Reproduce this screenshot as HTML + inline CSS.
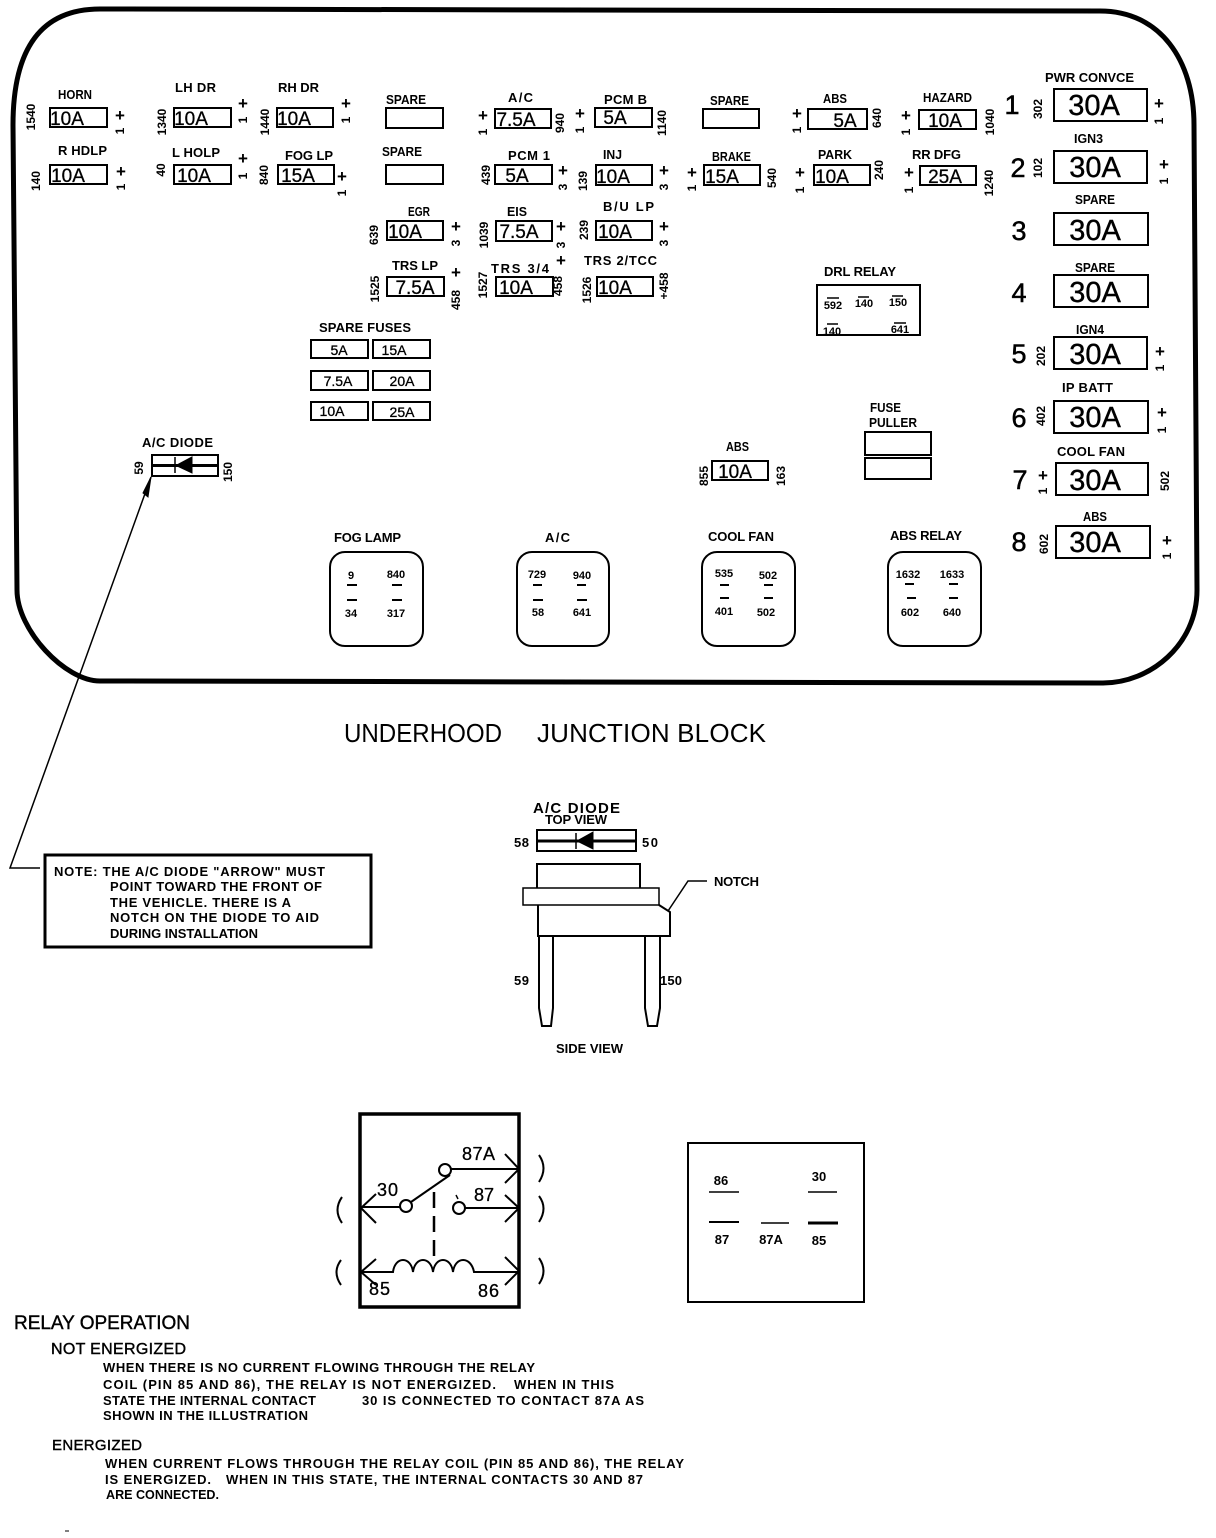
<!DOCTYPE html>
<html><head><meta charset="utf-8"><title>Underhood Junction Block</title>
<style>
html,body{margin:0;padding:0;background:#fff}
svg{display:block}
text{font-family:"Liberation Sans",sans-serif;fill:#000}
.l{font-size:13px;font-weight:bold}
.s{font-size:11px;font-weight:bold;text-anchor:middle}
.n{font-size:12px;font-weight:bold;text-anchor:middle}
.p{font-size:17px;font-weight:bold;text-anchor:middle}
.f{font-size:19px;text-anchor:middle;stroke:#000;stroke-width:.3}
.b{font-size:29px;text-anchor:middle;stroke:#000;stroke-width:.4}
.d{font-size:27px;text-anchor:middle;stroke:#000;stroke-width:.5}
.r{font-size:18px;stroke:#000;stroke-width:.3}
.t{stroke:#000;stroke-width:.4}
rect,path,line,circle{fill:none;stroke:#000}
</style></head><body>
<svg width="1216" height="1538" viewBox="0 0 1216 1538" xmlns="http://www.w3.org/2000/svg">
<path stroke-width="5" d="M100 9L1100 11C1160 11 1194 60 1194 125L1197 590C1197 645 1150 683 1103 683L100 681C65 681 17 630 17 590L13 125C13 50 40 9 100 9Z"/>

<!-- small fuses -->
<g stroke-width="2">
<rect x="50" y="108" width="57" height="19"/><rect x="50" y="165" width="57" height="19"/>
<rect x="174" y="108" width="57" height="19"/><rect x="174" y="165" width="57" height="19"/>
<rect x="277" y="108" width="56" height="19"/><rect x="278" y="165" width="56" height="19"/>
<rect x="386" y="108" width="57" height="20"/><rect x="386" y="165" width="57" height="19"/>
<rect x="387" y="221" width="56" height="19"/><rect x="387" y="277" width="57" height="19"/>
<rect x="495" y="109" width="56" height="19"/><rect x="595" y="108" width="57" height="19"/>
<rect x="703" y="109" width="56" height="19"/><rect x="808" y="109" width="59" height="20"/>
<rect x="919" y="110" width="57" height="19"/>
<rect x="495" y="165" width="57" height="19"/><rect x="596" y="165" width="56" height="20"/>
<rect x="704" y="165" width="56" height="20"/><rect x="814" y="165" width="56" height="20"/>
<rect x="920" y="166" width="56" height="19"/>
<rect x="496" y="221" width="56" height="20"/><rect x="596" y="221" width="56" height="19"/>
<rect x="496" y="277" width="57" height="19"/><rect x="597" y="277" width="56" height="19"/>
<rect x="817" y="285" width="103" height="50"/>
<rect x="311" y="340" width="57" height="18"/><rect x="373" y="340" width="57" height="18"/>
<rect x="311" y="371" width="57" height="19"/><rect x="373" y="371" width="57" height="19"/>
<rect x="311" y="402" width="57" height="18"/><rect x="373" y="402" width="57" height="18"/>
<rect x="865" y="432" width="66" height="23"/><rect x="865" y="458" width="66" height="21"/>
<rect x="712" y="461" width="56" height="19"/>
<rect x="1054" y="89" width="93" height="32"/><rect x="1054" y="151" width="93" height="32"/>
<rect x="1054" y="213" width="94" height="32"/><rect x="1054" y="275" width="94" height="32"/>
<rect x="1054" y="337" width="93" height="32"/><rect x="1054" y="401" width="94" height="32"/>
<rect x="1056" y="463" width="92" height="32"/><rect x="1056" y="526" width="94" height="32"/>
<rect x="330" y="552" width="93" height="94" rx="15"/><rect x="517" y="552" width="92" height="94" rx="15"/>
<rect x="702" y="552" width="93" height="94" rx="15"/><rect x="888" y="552" width="93" height="94" rx="15"/>
</g>

<!-- fuse values -->
<text class="f" x="67" y="125">10A</text><text class="f" x="68" y="182">10A</text>
<text class="f" x="191" y="125">10A</text><text class="f" x="194" y="182">10A</text>
<text class="f" x="294" y="125">10A</text><text class="f" x="298" y="182">15A</text>
<text class="f" x="405" y="238">10A</text><text class="f" x="415" y="294">7.5A</text>
<text class="f" x="516" y="126">7.5A</text><text class="f" x="615" y="124">5A</text>
<text class="f" x="845" y="127">5A</text><text class="f" x="945" y="127">10A</text>
<text class="f" x="517" y="182">5A</text><text class="f" x="613" y="183">10A</text>
<text class="f" x="722" y="183">15A</text><text class="f" x="832" y="183">10A</text>
<text class="f" x="945" y="183">25A</text><text class="f" x="519" y="238">7.5A</text>
<text class="f" x="615" y="238">10A</text><text class="f" x="516" y="294">10A</text>
<text class="f" x="615" y="294">10A</text><text class="f" x="735" y="478">10A</text>
<text class="f" style="font-size:14px" x="339" y="355">5A</text><text class="f" style="font-size:14px" x="394" y="355">15A</text>
<text class="f" style="font-size:14px" x="338" y="386">7.5A</text><text class="f" style="font-size:14px" x="402" y="386">20A</text>
<text class="f" style="font-size:14px" x="332" y="416">10A</text><text class="f" style="font-size:14px" x="402" y="417">25A</text>
<text class="b" x="1094" y="115">30A</text><text class="b" x="1095" y="177">30A</text>
<text class="b" x="1095" y="240">30A</text><text class="b" x="1095" y="302">30A</text>
<text class="b" x="1095" y="364">30A</text><text class="b" x="1095" y="427">30A</text>
<text class="b" x="1095" y="490">30A</text><text class="b" x="1095" y="552">30A</text>
<text class="d" x="1012" y="114">1</text><text class="d" x="1018" y="177">2</text>
<text class="d" x="1019" y="240">3</text><text class="d" x="1019" y="302">4</text>
<text class="d" x="1019" y="363">5</text><text class="d" x="1019" y="427">6</text>
<text class="d" x="1020" y="489">7</text><text class="d" x="1019" y="551">8</text>

<!-- labels -->
<text class="l" x="58" y="99" textLength="34" lengthAdjust="spacingAndGlyphs">HORN</text>
<text class="l" x="58" y="155" textLength="49">R HDLP</text>
<text class="l" x="175" y="92" textLength="41">LH DR</text>
<text class="l" x="172" y="157" textLength="48">L HOLP</text>
<text class="l" x="278" y="92" textLength="41">RH DR</text>
<text class="l" x="285" y="160" textLength="48">FOG LP</text>
<text class="l" x="386" y="104" textLength="40" lengthAdjust="spacingAndGlyphs">SPARE</text>
<text class="l" x="382" y="156" textLength="40" lengthAdjust="spacingAndGlyphs">SPARE</text>
<text class="l" x="408" y="216" textLength="22" lengthAdjust="spacingAndGlyphs">EGR</text>
<text class="l" x="392" y="270" textLength="46">TRS LP</text>
<text class="l" x="508" y="102" textLength="25">A/C</text>
<text class="l" x="604" y="104" textLength="43">PCM B</text>
<text class="l" x="710" y="105" textLength="39" lengthAdjust="spacingAndGlyphs">SPARE</text>
<text class="l" x="823" y="103" textLength="24" lengthAdjust="spacingAndGlyphs">ABS</text>
<text class="l" x="923" y="102" textLength="49" lengthAdjust="spacingAndGlyphs">HAZARD</text>
<text class="l" x="508" y="160" textLength="42">PCM 1</text>
<text class="l" x="603" y="159" textLength="19" lengthAdjust="spacingAndGlyphs">INJ</text>
<text class="l" x="712" y="161" textLength="39" lengthAdjust="spacingAndGlyphs">BRAKE</text>
<text class="l" x="818" y="159" textLength="34" lengthAdjust="spacingAndGlyphs">PARK</text>
<text class="l" x="912" y="159" textLength="49">RR DFG</text>
<text class="l" x="507" y="216" textLength="20" lengthAdjust="spacingAndGlyphs">EIS</text>
<text class="l" x="603" y="211" textLength="51">B/U LP</text>
<text class="l" x="491" y="273" textLength="58">TRS 3/4</text>
<text class="l" x="584" y="265" textLength="73">TRS 2/TCC</text>
<text class="l" x="824" y="276" textLength="72">DRL RELAY</text>
<text class="l" x="319" y="332" textLength="92">SPARE FUSES</text>
<text class="l" x="870" y="412" textLength="31" lengthAdjust="spacingAndGlyphs">FUSE</text>
<text class="l" x="869" y="427" textLength="48" lengthAdjust="spacingAndGlyphs">PULLER</text>
<text class="l" x="726" y="451" textLength="23" lengthAdjust="spacingAndGlyphs">ABS</text>
<text class="l" x="142" y="447" textLength="71">A/C DIODE</text>
<text class="l" x="1045" y="82" textLength="89">PWR CONVCE</text>
<text class="l" x="1074" y="143" textLength="29" lengthAdjust="spacingAndGlyphs">IGN3</text>
<text class="l" x="1075" y="204" textLength="40" lengthAdjust="spacingAndGlyphs">SPARE</text>
<text class="l" x="1075" y="272" textLength="40" lengthAdjust="spacingAndGlyphs">SPARE</text>
<text class="l" x="1076" y="334" textLength="28" lengthAdjust="spacingAndGlyphs">IGN4</text>
<text class="l" x="1062" y="392" textLength="51">IP BATT</text>
<text class="l" x="1057" y="456" textLength="68">COOL FAN</text>
<text class="l" x="1083" y="521" textLength="24" lengthAdjust="spacingAndGlyphs">ABS</text>
<text class="l" x="334" y="542" textLength="67">FOG LAMP</text>
<text class="l" x="545" y="542" textLength="25">A/C</text>
<text class="l" x="708" y="541" textLength="66">COOL FAN</text>
<text class="l" x="890" y="540" textLength="72">ABS RELAY</text>

<!-- plus marks -->
<text class="p" x="120" y="121">+</text><text class="p" x="121" y="177">+</text>
<text class="p" x="243" y="109">+</text><text class="p" x="243" y="164">+</text>
<text class="p" x="346" y="109">+</text><text class="p" x="342" y="182">+</text>
<text class="p" x="456" y="232">+</text><text class="p" x="456" y="278">+</text>
<text class="p" x="483" y="121">+</text><text class="p" x="580" y="119">+</text>
<text class="p" x="797" y="119">+</text><text class="p" x="906" y="121">+</text>
<text class="p" x="563" y="176">+</text><text class="p" x="664" y="176">+</text>
<text class="p" x="692" y="178">+</text><text class="p" x="800" y="178">+</text>
<text class="p" x="909" y="178">+</text><text class="p" x="561" y="232">+</text>
<text class="p" x="664" y="232">+</text><text class="p" x="561" y="266">+</text>
<text class="p" x="1159" y="109">+</text><text class="p" x="1164" y="170">+</text>
<text class="p" x="1160" y="357">+</text><text class="p" x="1162" y="418">+</text>
<text class="p" x="1043" y="481">+</text><text class="p" x="1167" y="546">+</text>

<!-- rotated numbers -->
<text class="n" transform="translate(35,117) rotate(-90)">1540</text>
<text class="n" transform="translate(40,181) rotate(-90)">140</text>
<text class="n" transform="translate(166,122) rotate(-90)">1340</text>
<text class="n" transform="translate(165,170) rotate(-90)">40</text>
<text class="n" transform="translate(269,122) rotate(-90)">1440</text>
<text class="n" transform="translate(268,175) rotate(-90)">840</text>
<text class="n" transform="translate(378,235) rotate(-90)">639</text>
<text class="n" transform="translate(379,289) rotate(-90)">1525</text>
<text class="n" transform="translate(460,300) rotate(-90)">458</text>
<text class="n" transform="translate(564,123) rotate(-90)">940</text>
<text class="n" transform="translate(666,123) rotate(-90)">1140</text>
<text class="n" transform="translate(881,118) rotate(-90)">640</text>
<text class="n" transform="translate(994,122) rotate(-90)">1040</text>
<text class="n" transform="translate(490,175) rotate(-90)">439</text>
<text class="n" transform="translate(587,181) rotate(-90)">139</text>
<text class="n" transform="translate(776,178) rotate(-90)">540</text>
<text class="n" transform="translate(883,170) rotate(-90)">240</text>
<text class="n" transform="translate(993,183) rotate(-90)">1240</text>
<text class="n" transform="translate(488,235) rotate(-90)">1039</text>
<text class="n" transform="translate(588,230) rotate(-90)">239</text>
<text class="n" transform="translate(487,285) rotate(-90)">1527</text>
<text class="n" transform="translate(562,286) rotate(-90)">458</text>
<text class="n" transform="translate(591,290) rotate(-90)">1526</text>
<text class="n" transform="translate(668,286) rotate(-90)">+458</text>
<text class="n" transform="translate(708,476) rotate(-90)">855</text>
<text class="n" transform="translate(785,476) rotate(-90)">163</text>
<text class="n" transform="translate(143,468) rotate(-90)">59</text>
<text class="n" transform="translate(232,472) rotate(-90)">150</text>
<text class="n" transform="translate(1042,109) rotate(-90)">302</text>
<text class="n" transform="translate(1042,168) rotate(-90)">102</text>
<text class="n" transform="translate(1045,356) rotate(-90)">202</text>
<text class="n" transform="translate(1045,416) rotate(-90)">402</text>
<text class="n" transform="translate(1169,481) rotate(-90)">502</text>
<text class="n" transform="translate(1048,544) rotate(-90)">602</text>
<text class="n" transform="translate(124,131) rotate(-90)">1</text>
<text class="n" transform="translate(125,187) rotate(-90)">1</text>
<text class="n" transform="translate(247,120) rotate(-90)">1</text>
<text class="n" transform="translate(247,176) rotate(-90)">1</text>
<text class="n" transform="translate(350,120) rotate(-90)">1</text>
<text class="n" transform="translate(346,193) rotate(-90)">1</text>
<text class="n" transform="translate(460,243) rotate(-90)">3</text>
<text class="n" transform="translate(487,132) rotate(-90)">1</text>
<text class="n" transform="translate(584,130) rotate(-90)">1</text>
<text class="n" transform="translate(801,130) rotate(-90)">1</text>
<text class="n" transform="translate(910,132) rotate(-90)">1</text>
<text class="n" transform="translate(567,187) rotate(-90)">3</text>
<text class="n" transform="translate(668,187) rotate(-90)">3</text>
<text class="n" transform="translate(696,188) rotate(-90)">1</text>
<text class="n" transform="translate(804,190) rotate(-90)">1</text>
<text class="n" transform="translate(913,190) rotate(-90)">1</text>
<text class="n" transform="translate(565,245) rotate(-90)">3</text>
<text class="n" transform="translate(668,243) rotate(-90)">3</text>
<text class="n" transform="translate(1163,121) rotate(-90)">1</text>
<text class="n" transform="translate(1168,181) rotate(-90)">1</text>
<text class="n" transform="translate(1164,368) rotate(-90)">1</text>
<text class="n" transform="translate(1166,430) rotate(-90)">1</text>
<text class="n" transform="translate(1047,491) rotate(-90)">1</text>
<text class="n" transform="translate(1171,556) rotate(-90)">1</text>

<!-- DRL relay contents -->
<text class="s" x="833" y="309">592</text><text class="s" x="864" y="307">140</text>
<text class="s" x="898" y="306">150</text><text class="s" x="832" y="335">140</text>
<text class="s" x="900" y="333">641</text>
<path stroke-width="1.5" d="M827 298h12M858 297h11M892 296h11M827 324h11M894 323h12"/>

<!-- relay boxes contents -->
<text class="s" x="351" y="579">9</text><text class="s" x="396" y="578">840</text>
<text class="s" x="351" y="617">34</text><text class="s" x="396" y="617">317</text>
<text class="s" x="537" y="578">729</text><text class="s" x="582" y="579">940</text>
<text class="s" x="538" y="616">58</text><text class="s" x="582" y="616">641</text>
<text class="s" x="724" y="577">535</text><text class="s" x="768" y="579">502</text>
<text class="s" x="724" y="615">401</text><text class="s" x="766" y="616">502</text>
<text class="s" x="908" y="578">1632</text><text class="s" x="952" y="578">1633</text>
<text class="s" x="910" y="616">602</text><text class="s" x="952" y="616">640</text>
<path stroke-width="2" d="M347 585h10M392 585h10M347 600h10M392 600h10M533 585h9M577 585h9M533 600h10M577 600h10M720 585h9M764 585h9M720 598h9M764 598h9M905 584h9M949 584h9M907 598h9M949 598h9"/>

<!-- A/C diode small -->
<rect x="152" y="455" width="66" height="21" stroke-width="2"/>
<line x1="152" y1="465.500" x2="218" y2="465.500" stroke-width="3"/>
<path d="M192 457L176 465.500L192 473Z" style="fill:#000"/>
<line x1="175" y1="457" x2="175" y2="473" stroke-width="1.5"/>
<path d="M40 868H10L151 477" stroke-width="1.5"/>
<path d="M151 477L143 493L148 497Z" style="fill:#000"/>

<text x="344" y="742" textLength="158" lengthAdjust="spacingAndGlyphs" style="font-size:26px">UNDERHOOD</text>
<text x="537" y="742" textLength="229" style="font-size:26px">JUNCTION BLOCK</text>

<!-- Note -->
<rect x="45" y="855" width="326" height="92" stroke-width="3"/>
<text class="l" x="54" y="876" textLength="271">NOTE: THE A/C DIODE "ARROW" MUST</text>
<text class="l" x="110" y="891" textLength="212">POINT TOWARD THE FRONT OF</text>
<text class="l" x="110" y="907" textLength="181">THE VEHICLE. THERE IS A</text>
<text class="l" x="110" y="922" textLength="209">NOTCH ON THE DIODE TO AID</text>
<text class="l" x="110" y="938" textLength="148">DURING INSTALLATION</text>

<!-- A/C diode detail -->
<text class="l" x="533" y="813" textLength="87" style="font-size:15px">A/C DIODE</text>
<text class="l" x="545" y="824" textLength="62">TOP VIEW</text>
<text class="l" x="514" y="847" textLength="15">58</text>
<text class="l" x="642" y="847" textLength="16">50</text>
<rect x="537" y="830" width="99" height="21" stroke-width="2"/>
<line x1="537" y1="841" x2="637" y2="841" stroke-width="3"/>
<path d="M593 832L577 841L593 849Z" style="fill:#000"/>
<line x1="576" y1="833" x2="576" y2="849" stroke-width="1.5"/>
<path stroke-width="2" d="M537 888V864H640V888"/>
<rect x="523" y="888" width="136" height="17" stroke-width="1.5"/>
<path stroke-width="2" d="M538 905V936H670V912L659 905"/>
<path stroke-width="2" d="M539 936V1008L542 1026H551L553 1008V936M645 936V1008L648 1026H657L660 1008V936"/>
<path stroke-width="1.5" d="M668 911L688 881H707"/>
<text class="l" x="714" y="886" textLength="45">NOTCH</text>
<text class="l" x="514" y="985" textLength="15">59</text>
<text class="l" x="660" y="985" textLength="22">150</text>
<text class="l" x="556" y="1053" textLength="67">SIDE VIEW</text>

<!-- Relay schematic -->
<rect x="360" y="1114" width="159" height="193" stroke-width="3.5"/>
<circle cx="445" cy="1170" r="6" stroke-width="2"/>
<circle cx="459" cy="1208" r="6" stroke-width="2"/>
<circle cx="406" cy="1206" r="6" stroke-width="2"/>
<path stroke-width="2" d="M451 1169H519M465 1208H519M400 1207H362M411 1202L450 1175"/>
<path stroke-width="2" d="M505 1154L519 1169L505 1183M505 1195L519 1208L505 1222M376 1194L361 1208L376 1223M376 1259L361 1272L376 1285M505 1257L519 1271L505 1285"/>
<path stroke-width="2.5" d="M434 1192V1208M434 1216V1232M434 1240V1256"/>
<path stroke-width="2" d="M362 1272H393C395 1256 411 1256 413 1272C415 1256 431 1256 433 1272C435 1256 451 1256 453 1272C455 1256 471 1256 474 1272H519"/>
<line x1="456" y1="1195" x2="458" y2="1199" stroke-width="1.5"/>
<text class="r" x="462" y="1160" textLength="33">87A</text>
<text class="r" x="377" y="1196" textLength="21">30</text>
<text class="r" x="474" y="1201" textLength="20">87</text>
<text class="r" x="369" y="1295" textLength="21">85</text>
<text class="r" x="478" y="1297" textLength="21">86</text>
<path stroke-width="2" d="M342 1197Q333 1210 342 1223M341 1260Q332 1272 341 1285M539 1155Q548 1168 539 1182M539 1196Q548 1208 539 1222M539 1258Q548 1271 539 1284"/>

<rect x="688" y="1143" width="176" height="159" stroke-width="2"/>
<text class="s" style="font-size:13px" x="721" y="1185">86</text>
<text class="s" style="font-size:13px" x="819" y="1181">30</text>
<text class="s" style="font-size:13px" x="722" y="1244">87</text>
<text class="s" style="font-size:13px" x="771" y="1244">87A</text>
<text class="s" style="font-size:13px" x="819" y="1245">85</text>
<path stroke-width="1.5" d="M709 1192H739M808 1192H837M761 1223H789"/>
<path stroke-width="2" d="M709 1222H739"/>
<path stroke-width="3" d="M808 1223H838"/>

<!-- Relay operation text -->
<text class="t" x="14" y="1329" textLength="176" style="font-size:19px">RELAY OPERATION</text>
<text class="t" x="51" y="1354" textLength="135" style="font-size:16px">NOT ENERGIZED</text>
<text class="l" x="103" y="1372" textLength="432">WHEN THERE IS NO CURRENT FLOWING THROUGH THE RELAY</text>
<text class="l" x="103" y="1389" textLength="393">COIL (PIN 85 AND 86), THE RELAY IS NOT ENERGIZED.</text>
<text class="l" x="514" y="1389" textLength="100">WHEN IN THIS</text>
<text class="l" x="103" y="1405" textLength="213">STATE THE INTERNAL CONTACT</text>
<text class="l" x="362" y="1405" textLength="282">30 IS CONNECTED TO CONTACT 87A AS</text>
<text class="l" x="103" y="1420" textLength="205">SHOWN IN THE ILLUSTRATION</text>
<text class="t" x="52" y="1450" textLength="90" style="font-size:15px">ENERGIZED</text>
<text class="l" x="105" y="1468" textLength="579">WHEN CURRENT FLOWS THROUGH THE RELAY COIL (PIN 85 AND 86), THE RELAY</text>
<text class="l" x="105" y="1484" textLength="106">IS ENERGIZED.</text>
<text class="l" x="226" y="1484" textLength="417">WHEN IN THIS STATE, THE INTERNAL CONTACTS 30 AND 87</text>
<text class="l" x="106" y="1499" textLength="113" lengthAdjust="spacingAndGlyphs">ARE CONNECTED.</text>
<line x1="65" y1="1531" x2="69" y2="1531" stroke-width="1"/>
</svg>
</body></html>
